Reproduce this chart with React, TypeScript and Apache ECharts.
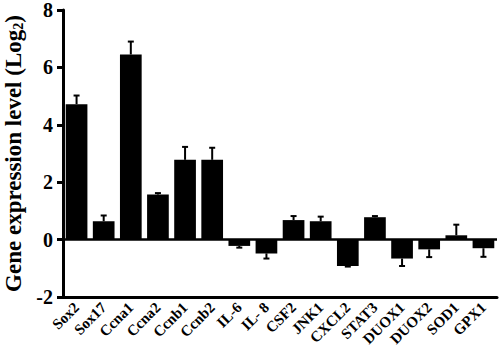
import React, { useEffect, useRef } from "react";
import * as echarts from "echarts";

const categories = ["Sox2", "Sox17", "Ccna1", "Ccna2", "Ccnb1", "Ccnb2", "IL-6", "IL- 8", "CSF2", "JNK1", "CXCL2", "STAT3", "DUOX1", "DUOX2", "SOD1", "GPX1"];
const values = [4.72, 0.64, 6.45, 1.57, 2.78, 2.78, -0.22, -0.48, 0.68, 0.64, -0.92, 0.78, -0.66, -0.34, 0.15, -0.3];
const errors = [0.3, 0.2, 0.45, 0.05, 0.45, 0.42, 0.06, 0.18, 0.14, 0.16, 0.02, 0.04, 0.26, 0.27, 0.37, 0.3];
const yTicks = { min: -2, max: 8, interval: 2 };

const FONT = "Liberation Serif, Times New Roman, serif";

export default function App() {
  const ref = useRef<HTMLDivElement>(null);
  useEffect(() => {
    if (!ref.current) return;
    const chart = echarts.init(ref.current, null, { renderer: "svg" });
    const errData = values.map((v, i) => [i, v, errors[i]]);
    chart.setOption({
      animation: false,
      backgroundColor: "#ffffff",
      grid: { left: 63, right: 3, top: 10, bottom: 63, containLabel: false, outerBoundsMode: "none" },
      xAxis: {
        type: "category",
        data: categories,
        axisLine: { onZero: false, lineStyle: { color: "#000", width: 3 } },
        axisTick: { alignWithLabel: true, length: 9, lineStyle: { color: "#000", width: 3 } },
        axisLabel: {
          interval: 0,
          rotate: 45,
          margin: 8,
          color: "#000",
          fontFamily: FONT,
          fontWeight: "bold",
          fontSize: 15,
        },
      },
      yAxis: {
        type: "value",
        min: yTicks.min,
        max: yTicks.max,
        interval: yTicks.interval,
        splitLine: { show: false },
        axisLine: { show: true, onZero: false, lineStyle: { color: "#000", width: 3 } },
        axisTick: { show: true, length: 6, lineStyle: { color: "#000", width: 3 } },
        axisLabel: {
          show: true,
          margin: 10,
          color: "#000",
          fontFamily: FONT,
          fontWeight: "bold",
          fontSize: 20,
          hideOverlap: false,
        },
        name: "{a|Gene expression level (Log}{s|2}{a|)}",
        nameLocation: "middle",
        nameGap: 37,
        nameTextStyle: {
          fontFamily: FONT,
          fontWeight: "bold",
          fontSize: 23,
          color: "#000",
          rich: {
            a: { fontFamily: FONT, fontWeight: "bold", fontSize: 23, color: "#000" },
            s: { fontFamily: FONT, fontWeight: "bold", fontSize: 14, color: "#000", verticalAlign: "bottom", padding: [9, 0, 0, 0] },
          },
        },
      },
      series: [
        {
          type: "bar",
          data: values,
          barWidth: "80%",
          itemStyle: { color: "#000" },
          markLine: {
            silent: true,
            symbol: "none",
            label: { show: false },
            lineStyle: { color: "#000", width: 2.5, type: "solid" },
            data: [{ yAxis: 0 }],
          },
        },
        {
          type: "custom",
          data: errData,
          encode: { x: 0, y: 1 },
          z: 3,
          renderItem: (params: any, api: any) => {
            const x = api.value(0);
            const v = api.value(1);
            const e = api.value(2);
            const sign = v >= 0 ? 1 : -1;
            const p0 = api.coord([x, v]);
            const p1 = api.coord([x, v + sign * e]);
            const cap = 3;
            return {
              type: "group",
              children: [
                { type: "line", shape: { x1: p0[0], y1: p0[1], x2: p1[0], y2: p1[1] }, style: { stroke: "#000", lineWidth: 2 } },
                { type: "line", shape: { x1: p1[0] - cap, y1: p1[1], x2: p1[0] + cap, y2: p1[1] }, style: { stroke: "#000", lineWidth: 2 } },
              ],
            };
          },
        },
      ],
    });
    return () => chart.dispose();
  }, []);
  return <div ref={ref} style={{ position: "fixed", left: 0, top: 0, width: 500, height: 360 }} />;
}
